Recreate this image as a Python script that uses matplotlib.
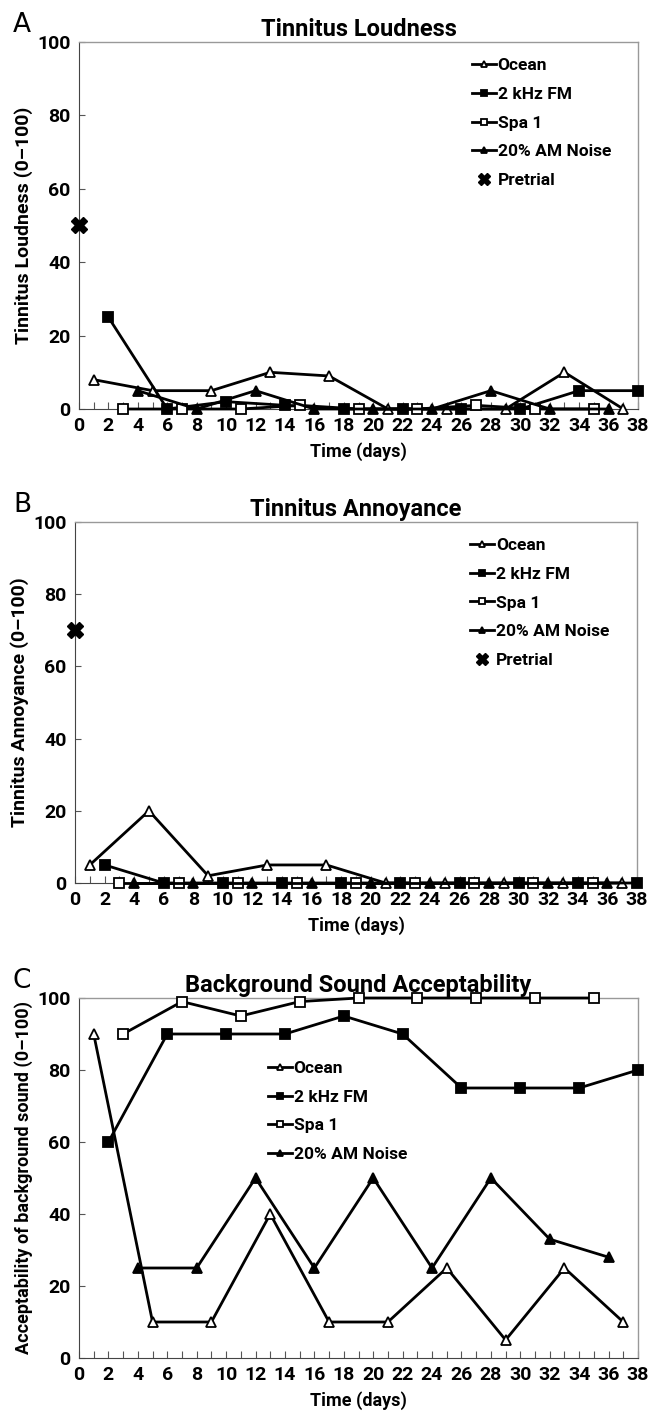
import matplotlib
matplotlib.use("Agg")
import matplotlib.pyplot as plt

plt.rcParams['font.family'] = ['Roboto', 'DejaVu Sans']
plt.rcParams['font.weight'] = 'bold'

series_names = ["Ocean", "2 kHz FM", "Spa 1", "20% AM Noise"]
ocean_days = [1, 5, 9, 13, 17, 21, 25, 29, 33, 37]
fm_days = [2, 6, 10, 14, 18, 22, 26, 30, 34, 38]
spa_days = [3, 7, 11, 15, 19, 23, 27, 31, 35]
am_days = [4, 8, 12, 16, 20, 24, 28, 32, 36]

# Panel A: Tinnitus Loudness
loud_ocean = [8, 5, 5, 10, 9, 0, 0, 0, 10, 0]
loud_fm = [25, 0, 2, 1, 0, 0, 0, 0, 5, 5]
loud_spa = [0, 0, 0, 1, 0, 0, 1, 0, 0]
loud_am = [5, 0, 5, 0, 0, 0, 5, 0, 0]
loud_pretrial = 50

# Panel B: Tinnitus Annoyance
ann_ocean = [5, 20, 2, 5, 5, 0, 0, 0, 0, 0]
ann_fm = [5, 0, 0, 0, 0, 0, 0, 0, 0, 0]
ann_spa = [0, 0, 0, 0, 0, 0, 0, 0, 0]
ann_am = [0, 0, 0, 0, 0, 0, 0, 0, 0]
ann_pretrial = 70

# Panel C: Background Sound Acceptability
acc_ocean = [90, 10, 10, 40, 10, 10, 25, 5, 25, 10]
acc_fm = [60, 90, 90, 90, 95, 90, 75, 75, 75, 80]
acc_spa = [90, 99, 95, 99, 100, 100, 100, 100, 100]
acc_am = [25, 25, 50, 25, 50, 25, 50, 33, 28]

x_ticks = list(range(0, 39, 2))
y_ticks = [0, 20, 40, 60, 80, 100]

W, H = 662, 1417
fig = plt.figure(figsize=(W / 100, H / 100), dpi=100)

def frac(l, t, r, b):
    return [l / W, 1 - b / H, (r - l) / W, (b - t) / H]

styles = [
    dict(marker='^', mfc='white', mec='black'),
    dict(marker='s', mfc='black', mec='black'),
    dict(marker='s', mfc='white', mec='black'),
    dict(marker='^', mfc='black', mec='black'),
]

def panel(rect, letter, title, ylabel, ylabel_size, data, pretrial, legend_loc):
    ax = fig.add_axes(frac(*rect))
    days = [ocean_days, fm_days, spa_days, am_days]
    handles = []
    for d, v, st, name in zip(days, data, styles, series_names):
        h, = ax.plot(d, v, color='black', lw=2.0, ms=7.5, mew=1.3,
                     clip_on=False, label=name, zorder=3, **st)
        handles.append(h)
    if pretrial is not None:
        h, = ax.plot([0], [pretrial], ls='none', marker='X', color='black',
                     ms=11, clip_on=False, label='Pretrial', zorder=4)
        handles.append(h)
    ax.set_xlim(0, 38)
    ax.set_ylim(0, 100)
    ax.set_xticks(x_ticks)
    ax.set_xticks(range(0, 39), minor=True)
    ax.set_yticks(y_ticks)
    ax.tick_params(axis='x', which='both', direction='in', length=5,
                   width=0.8, colors='#555555', labelcolor='black',
                   labelsize=14, pad=6)
    ax.tick_params(axis='y', which='major', direction='in', length=4,
                   width=0.8, colors='#555555', labelcolor='black',
                   labelsize=14, pad=6)
    for lab in ax.get_xticklabels() + ax.get_yticklabels():
        lab.set_fontweight('bold')
    for side in ['top', 'right']:
        ax.spines[side].set_color('#999999')
        ax.spines[side].set_linewidth(1.0)
    ax.spines['left'].set_color('#444444')
    ax.spines['bottom'].set_color('#444444')
    ax.set_xlabel('Time (days)', fontsize=13, fontweight='bold', labelpad=5)
    ax.set_ylabel(ylabel, fontsize=ylabel_size, fontweight='bold', labelpad=3)
    ax.set_title(title, fontsize=17, fontweight='bold', pad=4)
    l, t, r, b = rect
    fig.text(13 / W, 1 - (t - 17) / H, letter, fontsize=19,
             fontweight='normal', family='DejaVu Sans', va='center',
             ha='left')
    leg = ax.legend(handles=handles, loc=legend_loc[0],
                    bbox_to_anchor=legend_loc[1], frameon=False,
                    fontsize=12.5, handlelength=1.4, handletextpad=0.1,
                    markerscale=0.6, labelspacing=0.78, borderaxespad=0)
    for txt in leg.get_texts():
        txt.set_fontweight('bold')
    if pretrial is not None:
        leg.legend_handles[-1].set_markersize(9)
    return ax

panel((79, 42, 638, 409), 'A', 'Tinnitus Loudness', 'Tinnitus Loudness (0\u2013100)', 14,
      [loud_ocean, loud_fm, loud_spa, loud_am], loud_pretrial,
      ('upper left', (0.69, 0.975)))
panel((75, 522, 637, 883), 'B', 'Tinnitus Annoyance', 'Tinnitus Annoyance (0\u2013100)', 14,
      [ann_ocean, ann_fm, ann_spa, ann_am], ann_pretrial,
      ('upper left', (0.69, 0.975)))
panel((79, 998, 638, 1358), 'C', 'Background Sound Acceptability',
      'Acceptability of background sound (0\u2013100)', 13,
      [acc_ocean, acc_fm, acc_spa, acc_am], None,
      ('upper left', (0.325, 0.845)))

fig.savefig('out.png', dpi=100)
